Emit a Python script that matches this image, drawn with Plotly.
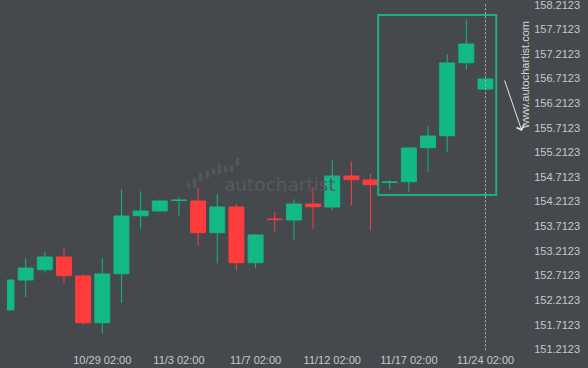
import plotly.graph_objects as go

# ---- data ----
idx = list(range(26))
open_ = [152.011, 152.620, 152.829, 153.087, 152.701, 151.753, 152.748, 153.926, 154.022, 154.236,
         154.225, 153.581, 154.103, 152.972, 153.858, 153.839, 154.164, 154.103, 154.733, 154.652,
         154.600, 154.617, 155.308, 155.551, 157.034, 156.500]
high = [152.620, 153.067, 153.183, 153.270, 152.742, 153.067, 154.463, 154.422, 154.259, 154.300,
        154.495, 154.367, 154.164, 153.555, 154.002, 154.259, 154.503, 155.058, 155.031, 154.773,
        154.652, 155.322, 155.742, 157.205, 157.916, 156.703]
low = [152.011, 152.275, 152.769, 152.565, 151.712, 151.529, 152.159, 153.662, 154.002, 153.926,
       153.317, 152.959, 152.817, 152.858, 153.609, 153.427, 153.662, 154.042, 154.138, 153.622,
       154.463, 154.414, 154.820, 155.226, 156.892, 156.500]
close = [152.620, 152.864, 153.087, 152.708, 151.753, 152.742, 153.920, 154.022, 154.225, 154.242,
         153.581, 154.103, 152.972, 153.534, 153.848, 154.164, 154.109, 154.733, 154.658, 154.556,
         154.610, 155.302, 155.545, 157.028, 157.414, 156.703]

tick_idx = [5, 9, 13, 17, 21, 25]
tick_text = ["10/29 02:00", "11/3 02:00", "11/7 02:00", "11/12 02:00", "11/17 02:00", "11/24 02:00"]
y_ticks = [151.2123 + 0.5 * k for k in range(15)]
y_text = [f"{v:.4f}" for v in y_ticks]

pattern_x = [19.4, 25.56]
pattern_y = [154.347, 158.003]
arrow_x = [25.97, 26.9]
arrow_y = [156.703, 155.647]
now_idx = 25

BG = "#45494e"
GREEN = "#12b886"
RED = "#ff3c3c"

fig = go.Figure()
fig.add_trace(go.Candlestick(
    x=idx, open=open_, high=high, low=low, close=close,
    increasing=dict(line=dict(color=GREEN, width=1), fillcolor=GREEN),
    decreasing=dict(line=dict(color=RED, width=1), fillcolor=RED),
    whiskerwidth=0, showlegend=False, hoverinfo="skip",
))

# pattern rectangle
fig.add_shape(type="rect", xref="x", yref="y",
              x0=pattern_x[0], x1=pattern_x[1], y0=pattern_y[0], y1=pattern_y[1],
              line=dict(color="#1aae80", width=2), fillcolor="rgba(0,0,0,0)", layer="above")
# current time dashed line
fig.add_shape(type="line", xref="x", yref="paper", x0=now_idx, x1=now_idx, y0=0.005, y1=0.99,
              line=dict(color="#b4b6b8", width=1, dash="2px,2px"), layer="above")

# forecast arrow
fig.add_annotation(x=arrow_x[1], y=arrow_y[1], ax=arrow_x[0], ay=arrow_y[0],
                   xref="x", yref="y", axref="x", ayref="y",
                   showarrow=True, arrowhead=4, arrowsize=1.5, arrowwidth=1,
                   arrowcolor="#e6e6e6", text="")

# watermark icon
bars = [(187, 190, 183, 188), (193, 196, 178, 188), (199, 202, 173, 181), (206, 209, 171, 178),
        (212, 215, 169, 175), (218, 221, 164, 174), (224, 227, 166, 172), (230, 233, 165, 172),
        (236, 239, 158, 166)]
W, H = 588, 368
pl_l, pl_r, pl_t, pl_b = 7, 528, 0, 352


def px(x):
    return (x - pl_l) / (pl_r - pl_l)


def py(y):
    return 1 - (y - pl_t) / (pl_b - pl_t)


for x0, x1, y0, y1 in bars:
    fig.add_shape(type="rect", xref="paper", yref="paper",
                  x0=px(x0), x1=px(x1), y0=py(y1), y1=py(y0),
                  line=dict(width=0), fillcolor="#53575c", layer="below")
fig.add_annotation(x=px(280), y=py(184), xref="paper", yref="paper", text="autochartist",
                   showarrow=False, font=dict(family="DejaVu Sans", size=18.5, color="#55595e"),
                   xanchor="center", yanchor="middle")
# vertical url
fig.add_annotation(x=px(525), y=py(75), xref="paper", yref="paper", text="www.autochartist.com",
                   showarrow=False, textangle=-90,
                   font=dict(family="Liberation Sans", size=11, color="#d4d4d4"),
                   xanchor="center", yanchor="middle")

step = 19.16
x_lo = (pl_l - 6.5) / step
x_hi = (pl_r - 6.5) / step
fig.update_layout(
    width=W, height=H,
    margin=dict(l=pl_l, r=W - pl_r, t=pl_t, b=H - pl_b),
    paper_bgcolor=BG, plot_bgcolor=BG,
    boxgap=0.22, boxgroupgap=0,
    xaxis=dict(range=[x_lo, x_hi], tickvals=tick_idx, ticktext=tick_text, showgrid=False,
               zeroline=False, showline=False, ticks="", rangeslider=dict(visible=False),
               tickfont=dict(family="Liberation Sans", size=11, color="#c5c7c9")),
    yaxis=dict(range=[151.1577, 158.3078], side="right", tickvals=y_ticks, ticktext=y_text,
               showgrid=False, zeroline=False, showline=False, ticks="outside", ticklen=3,
               tickcolor=BG, ticklabeloverflow="allow",
               tickfont=dict(family="Liberation Sans", size=11, color="#c5c7c9")),
)
fig.write_html("out.html")
